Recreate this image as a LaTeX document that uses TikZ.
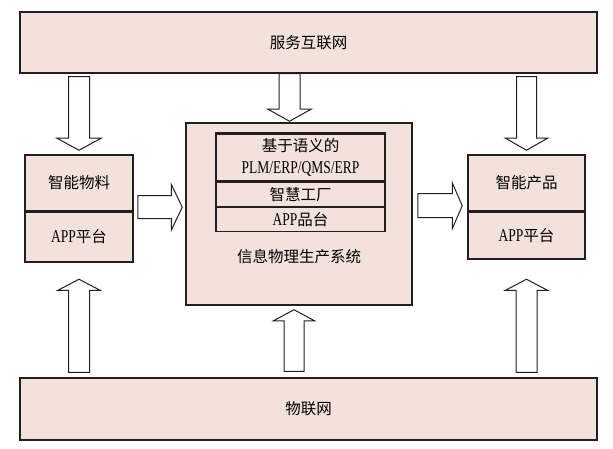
\documentclass[tikz,border=0pt]{standalone}
\usepackage{fontspec}
\setmainfont{Liberation Serif}[FakeStretch=0.75]
\newfontfamily\cjkf{Noto Sans CJK SC}
\newcommand\zh[1]{{\cjkf #1}}
\newcommand\latn[1]{{\fontsize{18}{18}\selectfont #1}}
\usetikzlibrary{calc}
\definecolor{boxfill}{HTML}{F3E2DC}
\definecolor{ink}{HTML}{231F20}
\tikzset{
  box/.style={draw=ink, line width=1.5pt, fill=boxfill, inner sep=0pt, font=\fontsize{15.5}{18}\selectfont},
  cell/.style={draw=ink, line width=1.2pt, fill=boxfill, inner sep=0pt, align=center, font=\fontsize{15.5}{18}\selectfont},
  lbl/.style={inner sep=0pt, font=\fontsize{15.5}{18}\selectfont},
  blk/.style={draw=ink, line width=1pt, fill=white, line join=miter},
  thickedge/.style={draw=ink, line width=2.4pt},
}
\newcommand\blockarr[5]{%
  \path let \p1=(#1), \p2=(#2) in \pgfextra{%
    \pgfmathsetmacro\BAlen{veclen(\x2-\x1,\y2-\y1)}%
    \pgfmathsetmacro\BAang{atan2(\y2-\y1,\x2-\x1)}%
    \pgfmathsetmacro\BAx{\x1}%
    \pgfmathsetmacro\BAy{\y1}%
    \xdef\BAlen{\BAlen}\xdef\BAang{\BAang}\xdef\BAx{\BAx}\xdef\BAy{\BAy}};
  \draw[blk, shift={(\BAx pt,\BAy pt)}, rotate=\BAang]
    (0pt,-#3) -- ({\BAlen pt-#5},-#3) -- ({\BAlen pt-#5},-#4) -- (\BAlen pt,0pt)
    -- ({\BAlen pt-#5},#4) -- ({\BAlen pt-#5},#3) -- (0pt,#3) -- cycle;
}
\begin{document}
\begin{tikzpicture}[x=1pt,y=-1pt]
\useasboundingbox (0,0) rectangle (613,449);

% big boxes
\node[box, minimum width=577pt, minimum height=61pt] (top) at (308.5,42.5) {\zh{服务互联网}};
\node[box, minimum width=577pt, minimum height=62pt] (bot) at (308.5,409) {\zh{物联网}};

% left box
\node[box, minimum width=108pt, minimum height=56pt] (lt) at (79,183) {\zh{智能物料}};
\node[box, minimum width=108pt, minimum height=49pt, anchor=north] (lb) at (lt.south) {\latn{APP}\zh{平台}};
\draw[thickedge] (lb.south west) -- (lb.south east);

% right box
\node[box, minimum width=117pt, minimum height=56pt] (rt) at (526.5,183) {\zh{智能产品}};
\node[box, minimum width=117pt, minimum height=46pt, anchor=north] (rb) at (rt.south) {\latn{APP}\zh{平台}};
\draw[thickedge] (rb.south west) -- (rb.south east);

% centre box
\node[box, minimum width=226pt, minimum height=182pt] (cps) at (299,214) {};
\node[cell, minimum width=169pt, minimum height=47pt] (i1) at (300.5,157.5)
  {\zh{基于语义的}\\[4.6pt]\latn{PLM/ERP/QMS/ERP}};
\node[cell, minimum width=169pt, minimum height=24pt, anchor=north] (i2) at (i1.south) {\zh{智慧工厂}};
\node[cell, minimum width=169pt, minimum height=24pt, anchor=north] (i3) at (i2.south) {\latn{APP}\zh{品台}};
\draw[thickedge] (i1.north west) -- (i1.north east);
\draw[thickedge] (i2.north west) -- (i2.north east);
\draw[thickedge] (i3.north west) -- (i3.north east);
\node[lbl] (cpslabel) at (299,257) {\zh{信息物理生产系统}};

% arrow end points
\coordinate (d1s) at ($(top.south -| lt.north)+(0,-3pt)$);
\coordinate (d1e) at ($(lt.north)+(0,4pt)$);
\coordinate (d2s) at ($(top.south -| cps.north)+(-9.5pt,0)$);
\coordinate (d2e) at ($(cps.north)+(-9.5pt,1pt)$);
\coordinate (d3s) at ($(top.south -| rt.north)+(0,-3pt)$);
\coordinate (d3e) at ($(rt.north)+(0,4pt)$);
\coordinate (h1s) at ($(lt.south east)+(4pt,4.5pt)$);
\coordinate (h1e) at ($(lt.south east -| cps.west)+(-3pt,4.5pt)$);
\coordinate (h2s) at ($(rt.south west -| cps.east)+(5pt,6pt)$);
\coordinate (h2e) at ($(rt.south west)+(-5pt,6pt)$);
\coordinate (u1s) at ($(bot.north -| lb.south)+(0,5pt)$);
\coordinate (u1e) at ($(lb.south)+(0,-17pt)$);
\coordinate (u2s) at ($(bot.north -| cps.south)+(-5pt,6pt)$);
\coordinate (u2e) at ($(cps.south)+(-5pt,-4pt)$);
\coordinate (u3s) at ($(bot.north -| rb.south)+(0,5pt)$);
\coordinate (u3e) at ($(rb.south)+(0,-20pt)$);

% block arrows
\blockarr{d1s}{d1e}{10.5pt}{22pt}{12pt}
\blockarr{d2s}{d2e}{10.5pt}{21.5pt}{12pt}
\blockarr{d3s}{d3e}{10pt}{21pt}{12pt}
\blockarr{h1s}{h1e}{11.5pt}{23pt}{11pt}
\blockarr{h2s}{h2e}{12pt}{23pt}{10pt}
\blockarr{u1s}{u1e}{10.5pt}{21pt}{11pt}
\blockarr{u2s}{u2e}{10pt}{20.5pt}{11pt}
\blockarr{u3s}{u3e}{10.5pt}{21pt}{11pt}
\end{tikzpicture}
\end{document}
